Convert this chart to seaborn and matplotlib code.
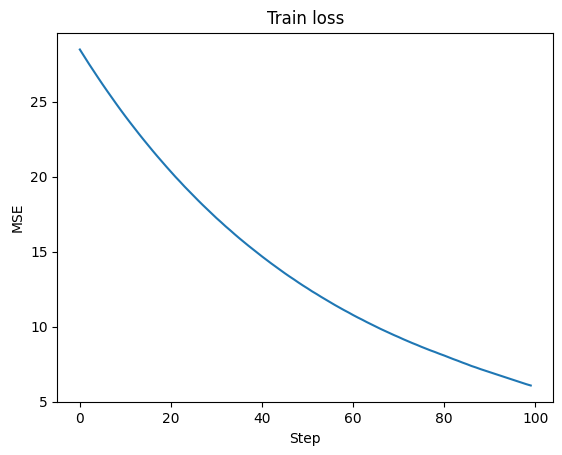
import matplotlib
matplotlib.use("Agg")
import matplotlib.pyplot as plt
import seaborn as sns
import pandas as pd

steps = list(range(100))
mse = [
    28.50, 28.02, 27.54, 27.08, 26.62, 26.17, 25.73, 25.30, 24.87, 24.45,
    24.04, 23.64, 23.25, 22.86, 22.48, 22.11, 21.74, 21.38, 21.03, 20.68,
    20.34, 20.00, 19.68, 19.35, 19.04, 18.73, 18.42, 18.12, 17.83, 17.54,
    17.25, 16.98, 16.70, 16.44, 16.17, 15.91, 15.66, 15.41, 15.17, 14.93,
    14.69, 14.46, 14.23, 14.01, 13.79, 13.57, 13.36, 13.16, 12.95, 12.75,
    12.56, 12.36, 12.18, 11.99, 11.81, 11.63, 11.45, 11.28, 11.11, 10.95,
    10.78, 10.62, 10.47, 10.31, 10.16, 10.01, 9.86, 9.72, 9.58, 9.44,
    9.31, 9.17, 9.04, 8.91, 8.79, 8.66, 8.54, 8.42, 8.31, 8.19,
    8.08, 7.96, 7.84, 7.73, 7.61, 7.50, 7.38, 7.28, 7.17, 7.07,
    6.97, 6.87, 6.77, 6.67, 6.57, 6.47, 6.37, 6.27, 6.17, 6.08,
]
title = "Train loss"
xlabel = "Step"
ylabel = "MSE"

df = pd.DataFrame({"Step": steps, "MSE": mse})

fig = plt.figure(figsize=(5.62, 4.55), dpi=100)
ax = fig.add_axes([57.3 / 562, 1 - 402.3 / 455, (553.3 - 57.3) / 562, (402.3 - 32.7) / 455])
sns.lineplot(data=df, x="Step", y="MSE", ax=ax, color="#1f77b4")
ax.set_title(title)
ax.set_xlabel(xlabel)
ax.set_ylabel(ylabel)
fig.savefig("out.png", dpi=100)
